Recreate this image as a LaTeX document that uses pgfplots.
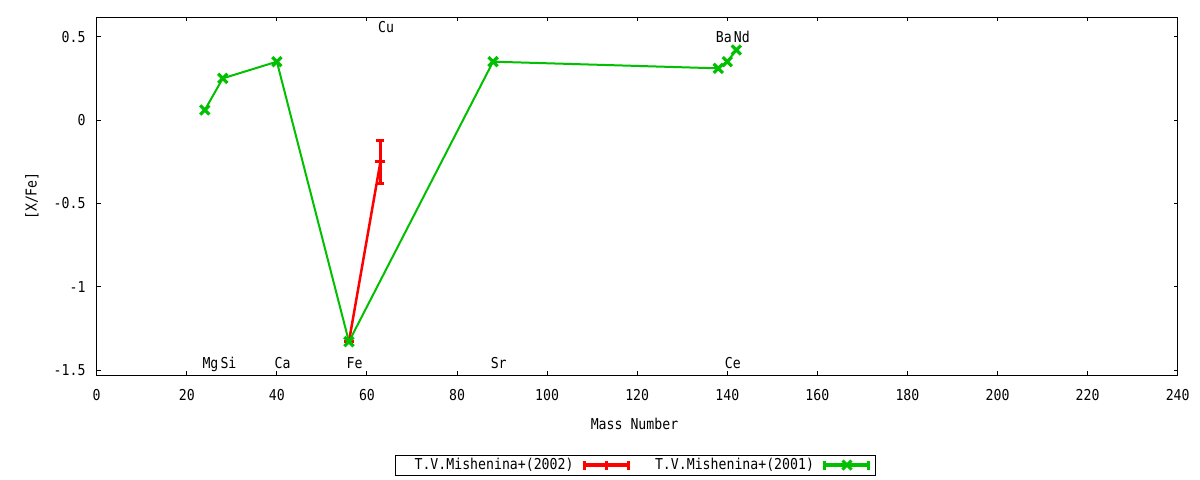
\documentclass[border=0pt]{standalone}
\usepackage{fontspec}
\setmainfont{DejaVu Sans Mono}[FakeStretch=0.88]
\usepackage{pgfplots}
\pgfplotsset{compat=1.18}
\definecolor{gpgreen}{RGB}{0,192,0}
\definecolor{gpred}{RGB}{255,0,0}
\newcommand\gpfont{\fontsize{15bp}{18bp}\selectfont}
\begin{document}
\begin{tikzpicture}[font=\gpfont]
\useasboundingbox (0,0) rectangle (1200bp,-480bp);
\begin{axis}[
  at={(96.7bp,-375bp)}, anchor=south west,
  scale only axis, width=1081bp, height=358bp,
  xmin=0, xmax=240, ymin=-1.530, ymax=0.618,
  xtick={0,20,...,240}, ytick={-1.5,-1,-0.5,0,0.5},
  tick align=inside, major tick length=4bp,
  axis line style={line width=1bp},
  tick style={line width=1bp, black},
  /pgf/number format/assume math mode=true,
  tick label style={font=\gpfont},
  xticklabel style={inner sep=0pt, anchor=north, yshift=-14bp},
  yticklabel style={inner sep=0pt, anchor=east, xshift=-11bp},
  xlabel={Mass Number}, ylabel={[X/Fe]},
  label style={font=\gpfont},
  xlabel style={at={(axis description cs:0.4975,0)}, anchor=center, yshift=-49bp},
  ylabel style={at={(axis description cs:-0.0599,0.5)}, anchor=center},
  legend style={at={(axis description cs:0.4987,-0.2514)}, anchor=center,
    draw=black, line width=1bp, inner xsep=0bp, inner ysep=0bp,
    column sep=0bp, font=\gpfont,
    nodes={inner xsep=2bp, inner ysep=0bp, minimum height=20bp}},
  legend columns=2,
  legend plot pos=right,
  legend cell align=left,
]
\addplot[gpred, line width=2.5bp, mark=-, mark size=5bp,
  mark options={line width=3bp, solid},
  error bars/.cd, y dir=both, y explicit,
  error mark=|,
  error bar style={line width=3bp, gpred},
  error mark options={gpred, line width=3bp, mark size=4bp},
  /pgfplots/.cd,
  legend image code/.code={
    \draw[gpred, line width=3.5bp] (8bp,0bp) -- (52bp,0bp);
    \draw[gpred, line width=3bp] (8bp,-4.5bp) -- (8bp,4.5bp)
      (52bp,-4.5bp) -- (52bp,4.5bp) (30bp,-4.5bp) -- (30bp,4.5bp);
    \path (0bp,0bp) (58bp,0bp);
  }]
  coordinates {(56,-1.33) +- (0,0) (63,-0.25) +- (0,0.13)};
\addlegendentry{\hspace*{17bp}T.V.Mishenina+(2002)}
\addplot[gpgreen, line width=2bp, mark=x, mark size=6.5bp,
  mark options={line width=3.2bp, solid},
  legend image code/.code={
    \draw[gpgreen, line width=3.5bp] (8bp,0bp) -- (52bp,0bp);
    \draw[gpgreen, line width=3bp] (8bp,-4.5bp) -- (8bp,4.5bp)
      (52bp,-4.5bp) -- (52bp,4.5bp);
    \draw[gpgreen, line width=3bp] (25.5bp,-4.5bp) -- (34.5bp,4.5bp) (25.5bp,4.5bp) -- (34.5bp,-4.5bp);
    \path (0bp,0bp) (58bp,0bp);
  }]
  coordinates {(24,0.06) (28,0.25) (40,0.35) (56,-1.33) (88,0.35) (138,0.31) (140,0.35) (142,0.42)};
\addlegendentry{\hspace*{17bp}T.V.Mishenina+(2001)}
\begin{scope}[every node/.style={anchor=base west, inner sep=0pt, xshift=-2.5bp, font=\gpfont}]
\node at (axis cs:24,-1.488) {Mg};
\node at (axis cs:28,-1.488) {Si};
\node at (axis cs:40,-1.488) {Ca};
\node at (axis cs:56,-1.488) {Fe};
\node at (axis cs:88,-1.488) {Sr};
\node at (axis cs:140,-1.488) {Ce};
\node at (axis cs:63,0.524) {Cu};
\node at (axis cs:138,0.464) {Ba};
\node at (axis cs:142,0.464) {Nd};
\end{scope}
\end{axis}
\end{tikzpicture}
\end{document}
